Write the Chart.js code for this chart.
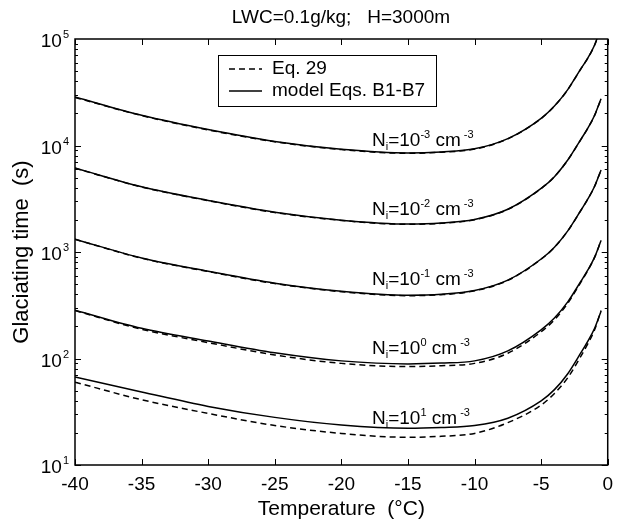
<!DOCTYPE html>
<html>
<head>
<meta charset="utf-8">
<script src="https://cdn.jsdelivr.net/npm/chart.js@4.4.1/dist/chart.umd.min.js"></script>
<style>
body{margin:0;background:#fff;}
#wrap{width:621px;height:522px;}
</style>
</head>
<body>
<div id="wrap"><canvas id="glac" width="621" height="522"></canvas></div>
<script>
// temperature (deg C) shared by every curve
var temps = [-40, -35, -30, -25, -20, -15, -12.5, -10, -7.5, -5, -4, -3, -2, -1.5, -1, -0.5];

// glaciating time (s), model Eqs. B1-B7 (solid) and Eq. 29 (dashed)
var model3 = [28500, 19200, 14100, 10900, 9200, 8500, 8700, 9300, 11600, 18000, 23500, 33500, 53000, 66000, 87000, 128000];
var eq3    = [28300, 19100, 14000, 10850, 9150, 8450, 8650, 9250, 11550, 17900, 23400, 33400, 52800, 65800, 86800, 127500];
var model2 = [6150, 4100, 3050, 2360, 1990, 1830, 1870, 2020, 2520, 3950, 5100, 7300, 11500, 14500, 19000, 27500];
var eq2    = [6120, 4080, 3030, 2350, 1980, 1820, 1860, 2010, 2510, 3940, 5090, 7290, 11480, 14480, 18980, 27450];
var model1 = [1320, 880, 660, 510, 428, 393, 401, 435, 545, 860, 1110, 1580, 2480, 3130, 4100, 5900];
var eq1    = [1315, 875, 655, 506, 424, 389, 397, 432, 541, 855, 1105, 1575, 2475, 3125, 4095, 5890];
var model0 = [284, 192, 146, 113, 95, 89, 90.5, 95, 118, 186, 240, 340, 535, 675, 885, 1280];
var eq0    = [282, 188, 141, 108, 90, 84, 85.5, 90, 112, 178, 231, 330, 525, 668, 880, 1285];
var modelP1 = [67, 48.5, 35.5, 28, 23.7, 22.1, 22.5, 23.5, 27.5, 40, 51, 72, 114, 145, 190, 278];
var eqP1    = [60, 41, 30.5, 23.5, 19.8, 18.2, 18.6, 19.8, 25, 36.5, 47, 66, 106, 137, 184, 282];

var xTicks = [-40, -35, -30, -25, -20, -15, -10, -5, 0];
var yExps = [1, 2, 3, 4, 5];
var niExps = ["-3", "-2", "-1", "0", "1"];
var niLabelT = -17.7;
var niLabelVal = [9900, 2220, 489, 110, 24.5];

var FONT = "'Liberation Sans', Arial, sans-serif";
Chart.defaults.font.family = FONT;
Chart.defaults.color = '#000';

function pts(ys){
  var out = [];
  for (var i = 0; i < temps.length; i++) out.push({x: temps[i], y: ys[i]});
  return out;
}
function line(ys, dashed){
  return {
    data: pts(ys),
    borderColor: '#000',
    borderWidth: 1.5,
    borderDash: dashed ? [6, 4] : [],
    pointRadius: 0,
    fill: false,
    cubicInterpolationMode: 'monotone'
  };
}

// text with sub/superscripts
function rich(ctx, parts, x, y){
  ctx.textAlign = 'left';
  ctx.textBaseline = 'alphabetic';
  for (var i = 0; i < parts.length; i++){
    var p = parts[i];
    var dy = 0;
    if (p[1] == 'n') ctx.font = '19px ' + FONT;
    else ctx.font = '11px ' + FONT;
    if (p[1] == 'sup') dy = -8;
    if (p[1] == 'sub') dy = 4;
    ctx.fillText(p[0], x, y + dy);
    x += ctx.measureText(p[0]).width;
  }
}

var decor = {
  id: 'decor',
  afterDraw: function(chart){
    var ctx = chart.ctx, a = chart.chartArea;
    var xs = chart.scales.x, ys = chart.scales.y;
    ctx.save();
    ctx.strokeStyle = '#000';
    ctx.fillStyle = '#000';
    ctx.lineWidth = 1.5;
    ctx.strokeRect(a.left, a.top, a.right - a.left, a.bottom - a.top);

    ctx.lineWidth = 1;
    ctx.beginPath();
    xTicks.forEach(function(v){
      var px = Math.round(xs.getPixelForValue(v)) + 0.5;
      ctx.moveTo(px, a.bottom); ctx.lineTo(px, a.bottom - 6);
      ctx.moveTo(px, a.top); ctx.lineTo(px, a.top + 6);
    });
    for (var e = 1; e < 5; e++){
      for (var m = 1; m < 10; m++){
        var py = Math.round(ys.getPixelForValue(m * Math.pow(10, e))) + 0.5;
        var len = m == 1 ? 6 : 3;
        ctx.moveTo(a.left, py); ctx.lineTo(a.left + len, py);
        ctx.moveTo(a.right, py); ctx.lineTo(a.right - len, py);
      }
    }
    ctx.stroke();

    // y tick labels 10^n
    yExps.forEach(function(n){
      var py = ys.getPixelForValue(Math.pow(10, n));
      ctx.font = '11px ' + FONT;
      var ew = ctx.measureText(String(n)).width;
      ctx.textAlign = 'right';
      ctx.textBaseline = 'alphabetic';
      ctx.fillText(String(n), a.left - 6, py - 1);
      ctx.font = '19px ' + FONT;
      ctx.fillText('10', a.left - 7 - ew, py + 8);
    });

    // curve labels
    niExps.forEach(function(ex, i){
      var px = xs.getPixelForValue(niLabelT);
      var py = ys.getPixelForValue(niLabelVal[i]);
      rich(ctx, [['N', 'n'], ['i', 'sub'], ['=10', 'n'], [ex, 'sup'], [' cm', 'n'], [' -3', 'sup']], px, py);
    });

    // legend
    ctx.lineWidth = 1;
    ctx.strokeRect(218.5, 55.5, 218, 51);
    ctx.lineWidth = 1.5;
    ctx.setLineDash([6, 4]);
    ctx.beginPath(); ctx.moveTo(229, 69); ctx.lineTo(262, 69); ctx.stroke();
    ctx.setLineDash([]);
    ctx.beginPath(); ctx.moveTo(229, 91); ctx.lineTo(262, 91); ctx.stroke();
    ctx.font = '19px ' + FONT;
    ctx.textAlign = 'left';
    ctx.textBaseline = 'middle';
    ctx.fillText('Eq. 29', 272, 69);
    ctx.fillText('model Eqs. B1-B7', 272, 91);

    // title
    ctx.textAlign = 'center';
    ctx.fillText('LWC=0.1g/kg;   H=3000m', 341, 18);
    ctx.restore();
  }
};

var glac = document.getElementById('glac').getContext('2d');
var chart = new Chart(glac, {
  type: 'line',
  data: {
    datasets: [
      line(eq3, true), line(model3, false),
      line(eq2, true), line(model2, false),
      line(eq1, true), line(model1, false),
      line(eq0, true), line(model0, false),
      line(eqP1, true), line(modelP1, false)
    ]
  },
  options: {
    responsive: false,
    animation: false,
    events: [],
    layout: {padding: {top: 39, right: 5, left: 0, bottom: 0}},
    plugins: {legend: {display: false}, tooltip: {enabled: false}, title: {display: false}},
    scales: {
      x: {
        type: 'linear', min: -40, max: 0,
        grid: {display: false, drawTicks: false},
        border: {display: false},
        ticks: {stepSize: 5, autoSkip: false, maxRotation: 0, padding: 8, font: {size: 19}, color: '#000'},
        title: {display: true, text: 'Temperature  (°C)', font: {size: 21}, padding: {top: 0, bottom: 0}, color: '#000'},
        afterFit: function(s){ s.height = 57; }
      },
      y: {
        type: 'logarithmic', min: 10, max: 100000,
        grid: {display: false, drawTicks: false},
        border: {display: false},
        ticks: {display: false},
        title: {display: true, text: 'Glaciating time  (s)', font: {size: 22}, padding: {top: 9, bottom: 0}, color: '#000'},
        afterFit: function(s){ s.width = 75; }
      }
    }
  },
  plugins: [decor]
});
</script>
</body>
</html>
